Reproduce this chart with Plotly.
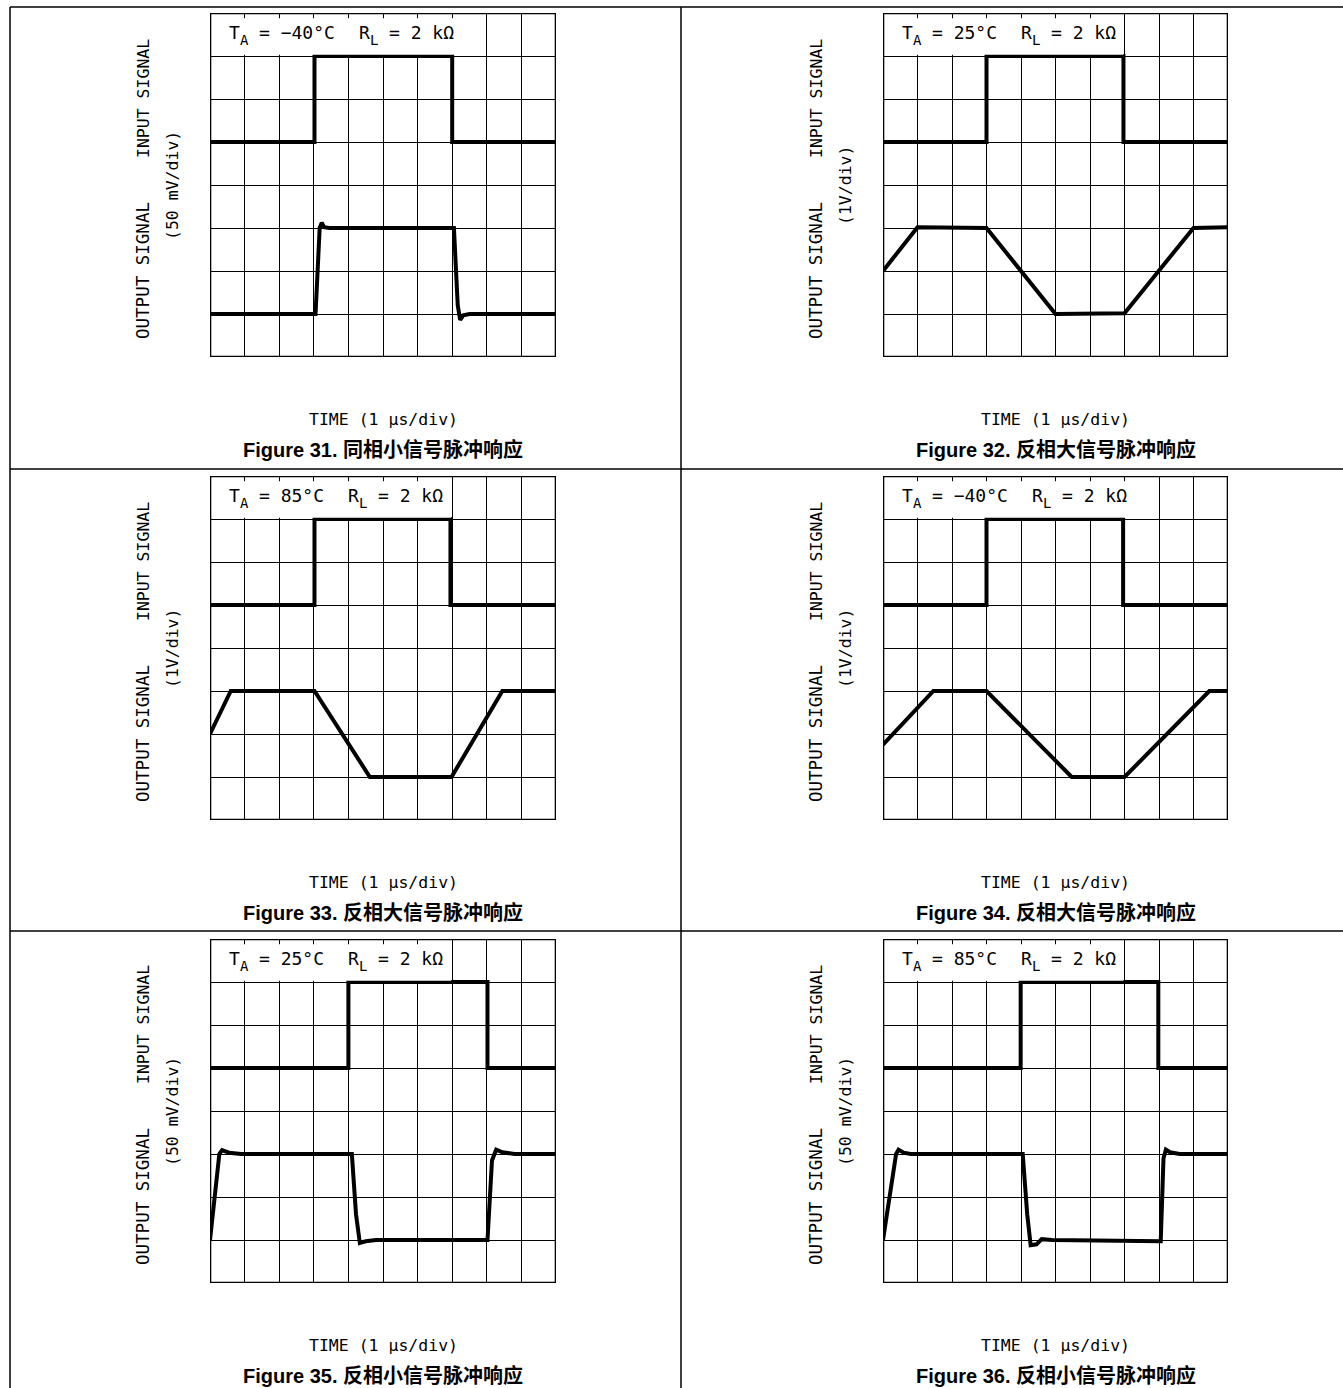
import plotly.graph_objects as go

W, H = 1343, 1388

# ---------------- data ----------------
figure_numbers = [31, 32, 33, 34, 35, 36]
captions = ["同相小信号脉冲响应", "反相大信号脉冲响应", "反相大信号脉冲响应",
            "反相大信号脉冲响应", "反相小信号脉冲响应", "反相小信号脉冲响应"]
temperatures = ["−40", "25", "85", "−40", "25", "85"]
load_text = "2 kΩ"
scale_labels = ["(50 mV/div)", "(1V/div)", "(1V/div)", "(1V/div)", "(50 mV/div)", "(50 mV/div)"]
x_label = "TIME (1 μs/div)"
input_label = "INPUT SIGNAL"
output_label = "OUTPUT SIGNAL"

# input waveforms (time in divisions, level in divisions)
in31_t = [0, 3.02, 3.02, 7.0, 7.0, 10]
in31_v = [5, 5, 7, 7, 5, 5]
in32_t = [0, 3.0, 3.0, 6.97, 6.97, 10]
in32_v = [5, 5, 7, 7, 5, 5]
in33_t = [0, 3.02, 3.02, 6.95, 6.95, 10]
in33_v = [5, 5, 7, 7, 5, 5]
in34_t = [0, 3.0, 3.0, 6.96, 6.96, 10]
in34_v = [5, 5, 7, 7, 5, 5]
in35_t = [0, 4.0, 4.0, 8.02, 8.02, 10]
in35_v = [5, 5, 7, 7, 5, 5]
in36_t = [0, 3.99, 3.99, 7.98, 7.98, 10]
in36_v = [5, 5, 7, 7, 5, 5]

# output waveforms
out31_t = [0, 3.05, 3.17, 3.23, 3.3, 3.45, 7.05, 7.16, 7.23, 7.32, 7.5, 10]
out31_v = [1.0, 1.0, 3.0, 3.12, 3.02, 3.0, 3.0, 1.2, 0.86, 0.97, 1.0, 1.0]
out32_t = [0, 1.0, 3.0, 5.0, 7.0, 9.0, 10]
out32_v = [2.0, 3.02, 3.0, 1.0, 1.02, 3.0, 3.02]
out33_t = [0, 0.6, 3.02, 4.62, 6.98, 8.45, 10]
out33_v = [2.0, 3.0, 3.0, 1.0, 1.0, 3.0, 3.0]
out34_t = [0, 1.46, 3.0, 5.47, 7.0, 9.46, 10]
out34_v = [1.75, 3.0, 3.0, 1.0, 1.0, 3.0, 3.0]
out35_t = [0, 0.27, 0.35, 0.55, 0.9, 4.1, 4.22, 4.33, 4.5, 4.8, 8.02, 8.15, 8.27, 8.45, 8.8, 10]
out35_v = [1.0, 3.0, 3.09, 3.03, 3.0, 3.0, 1.6, 0.93, 0.97, 1.0, 1.0, 2.85, 3.1, 3.04, 3.0, 3.0]
out36_t = [0, 0.38, 0.45, 0.6, 0.8, 4.05, 4.18, 4.28, 4.45, 4.6, 4.9, 8.05, 8.13, 8.2, 8.32, 8.6, 10]
out36_v = [1.0, 3.0, 3.1, 3.03, 3.0, 3.0, 1.6, 0.88, 0.9, 1.02, 1.0, 0.97, 2.9, 3.1, 3.04, 3.0, 3.0]

inputs = [(in31_t, in31_v), (in32_t, in32_v), (in33_t, in33_v),
          (in34_t, in34_v), (in35_t, in35_v), (in36_t, in36_v)]
outputs = [(out31_t, out31_v), (out32_t, out32_v), (out33_t, out33_v),
           (out34_t, out34_v), (out35_t, out35_v), (out36_t, out36_v)]
label_box_cols = [8, 7, 7, 8, 7, 7]

# ---------------- layout geometry ----------------
lefts = [210, 883]
rights = [556, 1228]
tops = [13, 476, 939]
PH = 344
LABEL_FONT = "DejaVu Sans Mono, Liberation Mono, monospace"
CAP_FONT = "Liberation Sans, Arial, Noto Sans CJK SC, sans-serif"
BOX_SIZE, SUB_SIZE = 18, 14
ADV, SUB_ADV = 0.602 * BOX_SIZE, 0.602 * SUB_SIZE

fig = go.Figure()
shapes = []
annotations = []


def box_piece(text, x_px, shift, size, y, yr):
    return dict(xref="paper", yref=yr, x=x_px / W, xshift=shift, y=y, xanchor="left",
                yanchor="bottom", showarrow=False, text=text,
                font=dict(family=LABEL_FONT, size=size, color="black"))


for i in range(6):
    col, row = i % 2, i // 2
    x0, x1 = lefts[col], rights[col]
    y0, y1 = tops[row], tops[row] + PH
    sfx = "" if i == 0 else str(i + 1)
    xr, yr = f"x{sfx}", f"y{sfx}"
    axis_common = dict(showgrid=True, gridcolor="black", gridwidth=1.4, showticklabels=False,
                       ticks="", zeroline=False, showline=False, fixedrange=True, dtick=1, tick0=0)
    fig.update_layout({
        f"xaxis{sfx}": dict(domain=[x0 / W, x1 / W], range=[0, 10], anchor=yr, **axis_common),
        f"yaxis{sfx}": dict(domain=[1 - y1 / H, 1 - y0 / H], range=[0, 8], anchor=xr, **axis_common),
    })
    for (t, v) in (inputs[i], outputs[i]):
        fig.add_trace(go.Scatter(x=t, y=v, mode="lines", xaxis=xr, yaxis=yr,
                                 line=dict(color="black", width=4),
                                 hoverinfo="skip", showlegend=False))
    # white label box over the top row of the graticule
    shapes.append(dict(type="rect", xref=xr, yref=yr, x0=0, x1=label_box_cols[i] - 0.03,
                       y0=7.03, y1=7.88, fillcolor="white", line=dict(width=0), layer="above"))
    # outer frame
    shapes.append(dict(type="rect", xref=xr, yref=yr, x0=0, x1=10, y0=0, y1=8,
                       line=dict(color="black", width=2.6), layer="above"))

    # condition text: T_A = ...  R_L = 2 kΩ  (subscripts drawn as smaller, lowered pieces)
    bx = x0 + 17
    y_main, y_sub = 7.262, 7.144
    pos = 0.0
    annotations.append(box_piece("T", bx, pos, BOX_SIZE, y_main, yr)); pos += ADV
    annotations.append(box_piece("A", bx, pos, SUB_SIZE, y_sub, yr)); pos += SUB_ADV + ADV
    seg = f"= {temperatures[i]}°C"
    annotations.append(box_piece(seg, bx, pos, BOX_SIZE, y_main, yr)); pos += ADV * len(seg) + 2.2 * ADV
    annotations.append(box_piece("R", bx, pos, BOX_SIZE, y_main, yr)); pos += ADV
    annotations.append(box_piece("L", bx, pos, SUB_SIZE, y_sub, yr)); pos += SUB_ADV + ADV
    annotations.append(box_piece(f"= {load_text}", bx, pos, BOX_SIZE, y_main, yr))

    annotations.append(dict(
        xref="paper", yref=yr, x=(x0 - 67) / W, y=6, xanchor="center", yanchor="middle",
        textangle=-90, showarrow=False, text=input_label,
        font=dict(family=LABEL_FONT, size=16.5, color="black")))
    annotations.append(dict(
        xref="paper", yref=yr, x=(x0 - 67) / W, y=2, xanchor="center", yanchor="middle",
        textangle=-90, showarrow=False, text=output_label,
        font=dict(family=LABEL_FONT, size=17.5, color="black")))
    annotations.append(dict(
        xref="paper", yref=yr, x=(x0 - 38) / W, y=4, xanchor="center", yanchor="middle",
        textangle=-90, showarrow=False, text=scale_labels[i],
        font=dict(family=LABEL_FONT, size=16.5, color="black")))
    annotations.append(dict(
        xref="paper", yref="paper", x=(x0 + x1) / 2 / W, y=1 - (y0 + 406) / H,
        xanchor="center", yanchor="middle", showarrow=False, text=x_label,
        font=dict(family=LABEL_FONT, size=16.5, color="black")))
    annotations.append(dict(
        xref="paper", yref="paper", x=(x0 + x1) / 2 / W, y=1 - (y0 + 436) / H,
        xanchor="center", yanchor="middle", showarrow=False,
        text=f"<b>Figure {figure_numbers[i]}. {captions[i]}</b>",
        font=dict(family=CAP_FONT, size=20, color="black")))

# table rules
for py in [7, 469, 931]:
    shapes.append(dict(type="line", xref="paper", yref="paper", x0=10 / W, x1=1.0,
                       y0=1 - py / H, y1=1 - py / H, line=dict(color="black", width=1.5)))
for px in [10, 681]:
    shapes.append(dict(type="line", xref="paper", yref="paper", x0=px / W, x1=px / W,
                       y0=1 - 7 / H, y1=0, line=dict(color="black", width=1.5)))

fig.update_layout(width=W, height=H, margin=dict(l=0, r=0, t=0, b=0),
                  paper_bgcolor="white", plot_bgcolor="white",
                  shapes=shapes, annotations=annotations, showlegend=False)

fig.write_html("out.html", config={"displayModeBar": False},
               post_script="document.body.style.margin='0';document.body.style.overflow='hidden';")
